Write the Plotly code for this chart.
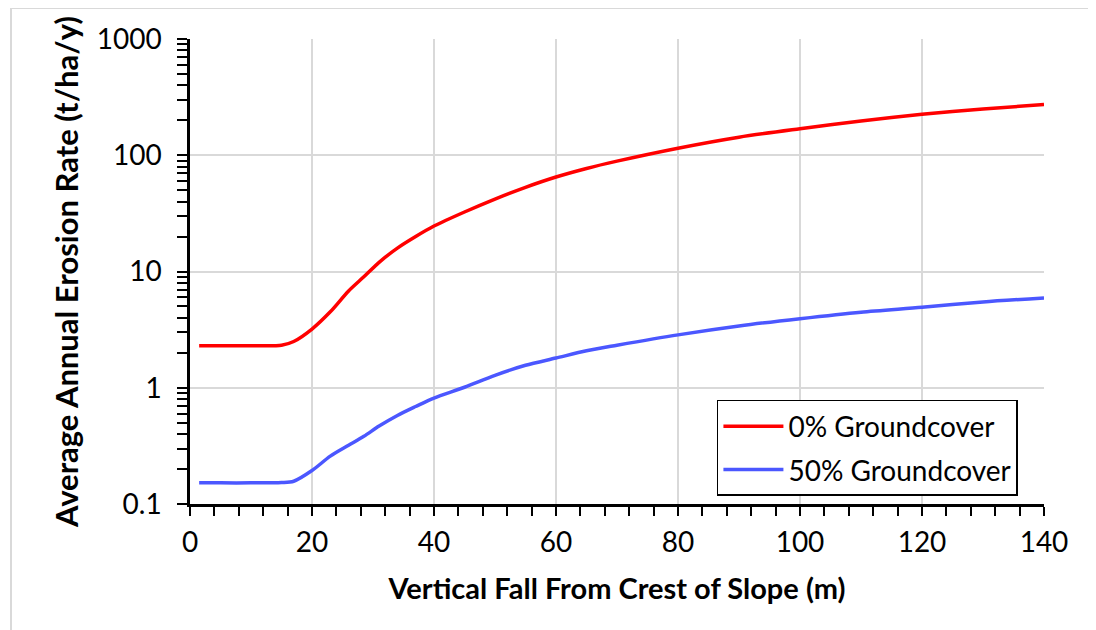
import plotly.graph_objects as go

# ---- data ----
fall_m = [1.5, 5, 10, 15, 17, 20, 23, 26, 28.5, 31, 34, 37, 40, 45, 50, 55,
          60, 65, 70, 80, 90, 100, 110, 120, 130, 140]
erosion_0pct = [2.3, 2.3, 2.3, 2.32, 2.5, 3.2, 4.5, 6.8, 9.0, 12.0, 15.9, 20.0,
                24.6, 32.5, 42, 53, 65, 77, 89, 115, 143, 169, 197, 225, 250, 273]
erosion_50pct = [0.152, 0.152, 0.152, 0.153, 0.157, 0.194, 0.258, 0.32, 0.382,
                 0.468, 0.578, 0.69, 0.816, 1.01, 1.28, 1.56, 1.80, 2.08, 2.32,
                 2.85, 3.40, 3.93, 4.47, 4.92, 5.47, 5.92]
series_names = ["0% Groundcover", "50% Groundcover"]
y_tickvals = [0.1, 1, 10, 100, 1000]
y_ticktext = ["0.1", "1", "10", "100", "1000"]
x_tickvals = [0, 20, 40, 60, 80, 100, 120, 140]

FONT = "Lato"
RED = "#FF0000"
BLUE = "#4B57FF"

fig = go.Figure()
fig.add_trace(go.Scatter(x=fall_m, y=erosion_0pct, name=series_names[0],
                         mode="lines", legendgroup="a",
                         line=dict(color=RED, width=3.5, shape="spline", smoothing=0.8)))
fig.add_trace(go.Scatter(x=fall_m, y=erosion_50pct, name=series_names[1],
                         mode="lines", legendgroup="b",
                         line=dict(color=BLUE, width=3.5, shape="spline", smoothing=0.8)))

fig.update_layout(
    width=1096, height=630,
    margin=dict(l=182, r=60, t=31, b=134),
    paper_bgcolor="white", plot_bgcolor="white",
    font=dict(family=FONT, color="black", size=28),
    showlegend=True,
    legend=dict(
        x=0.617, y=0.2237, xanchor="left", yanchor="top",
        bgcolor="white", bordercolor="black", borderwidth=1.5,
        font=dict(family=FONT, size=28, color="black"),
        tracegroupgap=4, traceorder="grouped", itemwidth=60,
    ),
    xaxis=dict(
        range=[0, 140], tickvals=x_tickvals,
        showline=True, linecolor="black", linewidth=2.5,
        ticks="outside", ticklen=9, tickwidth=2, tickcolor="black",
        showgrid=True, gridcolor="#D9D9D9", gridwidth=1.5,
        zeroline=False, ticklabelstandoff=3,
        tickfont=dict(family=FONT, size=28, color="black"),
        minor=dict(dtick=4, ticks="outside", ticklen=9, tickwidth=2,
                   tickcolor="black", showgrid=False),
        title=dict(text="<b>Vertical Fall From Crest of Slope (m)</b>",
                   font=dict(family=FONT, size=29, color="black"), standoff=22),
    ),
    yaxis=dict(
        type="log", range=[-1, 3],
        tickvals=y_tickvals, ticktext=y_ticktext,
        showline=True, linecolor="black", linewidth=2.5,
        ticks="outside", ticklen=10, tickwidth=2, tickcolor="black",
        showgrid=True, gridcolor="#D9D9D9", gridwidth=1.5,
        zeroline=False, ticklabelstandoff=10,
        tickfont=dict(family=FONT, size=28, color="black"),
        minor=dict(dtick="D1", ticks="outside", ticklen=10, tickwidth=2,
                   tickcolor="black", showgrid=False),
        title=dict(text="<b>Average Annual Erosion Rate (t/ha/y)</b>",
                   font=dict(family=FONT, size=31, color="black"), standoff=9),
    ),
)

# light grey chart-area border (left and top edges)
fig.add_shape(type="line", xref="paper", yref="paper",
              x0=(11 - 190) / 854, x1=(11 - 190) / 854,
              y0=(504 - 640) / 465, y1=(504 - 8) / 465,
              line=dict(color="#D9D9D9", width=2))
fig.add_shape(type="line", xref="paper", yref="paper",
              x0=(11 - 190) / 854, x1=(1100 - 190) / 854,
              y0=(504 - 8) / 465, y1=(504 - 8) / 465,
              line=dict(color="#D9D9D9", width=2))

fig.write_html("out.html")
